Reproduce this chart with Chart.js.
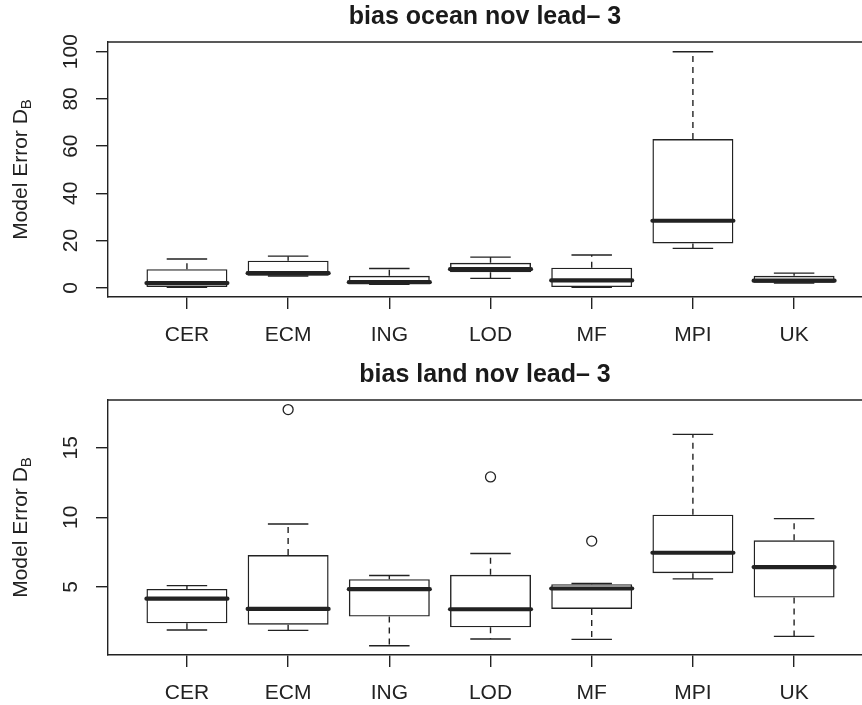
<!DOCTYPE html>
<html>
<head>
<meta charset="utf-8">
<script src="https://cdn.jsdelivr.net/npm/chart.js@4.4.1/dist/chart.umd.min.js"></script>
<style>
  html, body { margin: 0; padding: 0; background: #fff; overflow: hidden; }
  canvas { display: block; }
</style>
</head>
<body>
<canvas id="ocean" width="862" height="358"></canvas>
<canvas id="land" width="862" height="347"></canvas>
<script>
const categories = ['CER', 'ECM', 'ING', 'LOD', 'MF', 'MPI', 'UK'];

// ocean panel
const oceanLow    = [0.2, 5.0, 1.5, 4.0, 0.2, 16.7, 2.0];
const oceanQ1     = [0.3, 5.1, 1.6, 6.6, 0.3, 18.8, 2.1];
const oceanMedian = [2.0, 6.2, 2.4, 7.9, 3.1, 28.4, 3.0];
const oceanQ3     = [7.9, 11.5, 5.1, 10.6, 8.5, 63.0, 5.1];
const oceanHigh   = [12.2, 13.4, 8.2, 13.0, 13.9, 100, 6.2];
const oceanOutliers = [[], [], [], [], [], [], []];
const oceanTicks  = [0, 20, 40, 60, 80, 100];

// land panel
const landLow    = [1.9, 1.87, 0.77, 1.25, 1.22, 5.57, 1.44];
const landQ1     = [2.38, 2.28, 2.86, 2.09, 3.41, 5.98, 4.23];
const landMedian = [4.15, 3.41, 4.83, 3.39, 4.88, 7.45, 6.42];
const landQ3     = [4.85, 7.28, 5.55, 5.86, 5.19, 10.19, 8.34];
const landHigh   = [5.09, 9.52, 5.81, 7.4, 5.24, 15.96, 9.9];
const landOutliers = [[], [17.74], [], [12.9], [8.29], [], []];
const landTicks  = [5, 10, 15];

const FONT = '"Liberation Sans", Arial, Helvetica, sans-serif';
const INK = '#222';
const LW = 1.4;

// whiskers, medians, rotated y labels, top frame line (R boxplot look)
const rBoxPlugin = {
  id: 'rbox',
  afterDatasetsDraw(chart, args, o) {
    const ctx = chart.ctx;
    const a = chart.chartArea;
    const x = chart.scales.x, y = chart.scales.y;
    ctx.save();
    ctx.strokeStyle = INK;
    ctx.lineWidth = LW;
    ctx.beginPath();
    ctx.moveTo(a.left, a.top);
    ctx.lineTo(a.right, a.top);
    ctx.stroke();

    for (let i = 0; i < categories.length; i++) {
      const xc = x.getPixelForValue(i + 1);
      const cap = x.getPixelForValue(i + 1.2) - xc;
      const half = x.getPixelForValue(i + 1.4) - xc;
      // dashed whiskers
      ctx.setLineDash([6, 5]);
      ctx.lineWidth = LW;
      ctx.beginPath();
      ctx.moveTo(xc, y.getPixelForValue(o.q3[i]));
      ctx.lineTo(xc, y.getPixelForValue(o.high[i]));
      ctx.moveTo(xc, y.getPixelForValue(o.q1[i]));
      ctx.lineTo(xc, y.getPixelForValue(o.low[i]));
      ctx.stroke();
      ctx.setLineDash([]);
      // staples
      ctx.beginPath();
      ctx.moveTo(xc - cap, y.getPixelForValue(o.high[i]));
      ctx.lineTo(xc + cap, y.getPixelForValue(o.high[i]));
      ctx.moveTo(xc - cap, y.getPixelForValue(o.low[i]));
      ctx.lineTo(xc + cap, y.getPixelForValue(o.low[i]));
      ctx.stroke();
      // median
      ctx.lineWidth = 4.2;
      ctx.lineCap = 'round';
      ctx.beginPath();
      ctx.moveTo(xc - half, y.getPixelForValue(o.median[i]));
      ctx.lineTo(xc + half, y.getPixelForValue(o.median[i]));
      ctx.stroke();
      ctx.lineCap = 'butt';
    }

    // rotated y tick labels
    ctx.fillStyle = INK;
    ctx.font = '21px ' + FONT;
    ctx.textAlign = 'center';
    ctx.textBaseline = 'middle';
    o.ticks.forEach(v => {
      ctx.save();
      ctx.translate(71, y.getPixelForValue(v));
      ctx.rotate(-Math.PI / 2);
      ctx.fillText(String(v), 0, 0);
      ctx.restore();
    });

    // y axis title with subscript
    ctx.save();
    ctx.translate(21, (a.top + a.bottom) / 2);
    ctx.rotate(-Math.PI / 2);
    const main = 'Model Error D', sub = 'B';
    ctx.font = '21px ' + FONT;
    const w1 = ctx.measureText(main).width;
    ctx.font = '15px ' + FONT;
    const w2 = ctx.measureText(sub).width;
    const start = -(w1 + w2) / 2;
    ctx.textAlign = 'left';
    ctx.font = '21px ' + FONT;
    ctx.fillText(main, start, 0);
    ctx.font = '15px ' + FONT;
    ctx.fillText(sub, start + w1, 6);
    ctx.restore();
    ctx.restore();
  }
};

function makeChart(id, title, yMin, yMax, ticks, low, q1, median, q3, high, outliers) {
  const canvas = document.getElementById(id);
  const axisHeight = canvas.height - 297;
  const outPts = [];
  outliers.forEach((list, i) => list.forEach(v => outPts.push({ x: i + 1, y: v })));
  return new Chart(canvas, {
    type: 'bar',
    data: {
      datasets: [{
        type: 'bar',
        data: categories.map((c, i) => ({ x: i + 1, y: [q1[i], q3[i]] })),
        backgroundColor: 'rgba(255,255,255,0)',
        borderColor: INK,
        borderWidth: LW,
        borderSkipped: false,
        categoryPercentage: 1,
        barPercentage: 0.8
      }, {
        type: 'scatter',
        data: outPts,
        pointRadius: 5,
        pointBorderWidth: 1.3,
        pointBorderColor: INK,
        pointBackgroundColor: '#fff'
      }]
    },
    options: {
      responsive: false,
      animation: false,
      layout: { padding: 0, autoPadding: false },
      plugins: {
        legend: { display: false },
        tooltip: { enabled: false },
        title: {
          display: true,
          text: title,
          fullSize: false,
          color: '#1a1a1a',
          font: { family: FONT, size: 25, weight: 'bold' },
          padding: { top: 2, bottom: 10 }
        },
        rbox: { low, q1, median, q3, high, ticks }
      },
      scales: {
        x: {
          type: 'linear',
          min: 0.22,
          max: 7.671,
          offset: false,
          afterBuildTicks: s => { s.ticks = categories.map((c, i) => ({ value: i + 1 })); },
          afterFit: s => { s.height = axisHeight; },
          grid: { drawOnChartArea: false, offset: false, tickLength: 12, color: INK, lineWidth: LW },
          border: { color: INK, width: LW },
          ticks: {
            autoSkip: false,
            maxRotation: 0,
            padding: 14,
            color: INK,
            font: { family: FONT, size: 21 },
            callback: v => categories[Math.round(v) - 1]
          }
        },
        y: {
          type: 'linear',
          min: yMin,
          max: yMax,
          beginAtZero: false,
          afterBuildTicks: s => { s.ticks = ticks.map(v => ({ value: v })); },
          afterFit: s => { s.width = 108; },
          grid: { drawOnChartArea: false, tickLength: 12, color: INK, lineWidth: LW },
          border: { color: INK, width: LW },
          ticks: { display: false }
        }
      }
    },
    plugins: [rBoxPlugin]
  });
}

makeChart('ocean', 'bias ocean nov lead\u2013 3', -3.9, 104.1, oceanTicks,
  oceanLow, oceanQ1, oceanMedian, oceanQ3, oceanHigh, oceanOutliers);
makeChart('land', 'bias land nov lead\u2013 3', 0.1, 18.43, landTicks,
  landLow, landQ1, landMedian, landQ3, landHigh, landOutliers);
</script>
</body>
</html>
